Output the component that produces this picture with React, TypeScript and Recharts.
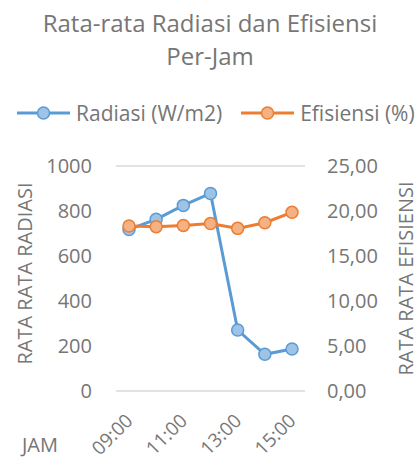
import { LineChart, Line, XAxis, YAxis, CartesianGrid, Label } from 'recharts'

const JAM = ['09:00', '10:00', '11:00', '12:00', '13:00', '14:00', '15:00']
const RADIASI = [718, 763, 825, 878, 271, 163, 187]
const EFISIENSI = [18.33, 18.26, 18.4, 18.6, 18.07, 18.7, 19.85]
const LEFT_TICKS = [0, 200, 400, 600, 800, 1000]
const RIGHT_TICKS = [0, 5, 10, 15, 20, 25]

const FONT = '"Open Sans", "Noto Sans", sans-serif'
const GREY = '#767676'
const BLUE = '#5B9BD5'
const ORANGE = '#ED7D31'

const data = JAM.map((jam, i) => ({ jam, radiasi: RADIASI[i], efisiensi: EFISIENSI[i] }))

const LegendItem = ({ color, fill, label }: { color: string; fill: string; label: string }) => (
  <div style={{ display: 'flex', alignItems: 'center' }}>
    <svg width={53} height={18}>
      <line x1={0} y1={9} x2={53} y2={9} stroke={color} strokeWidth={3} />
      <circle cx={26.5} cy={9} r={6} fill={fill} stroke={color} strokeWidth={1.5} />
    </svg>
    <span style={{ marginLeft: 6 }}>{label}</span>
  </div>
)

// rotated hour label, anchored at its end like Excel does
const JamTick = (props: any) => {
  const { x, y, payload } = props
  const ax = x + 5
  const ay = y + 31
  return (
    <text
      x={ax}
      y={ay}
      transform={`rotate(-45, ${ax}, ${ay})`}
      textAnchor="end"
      fontSize={19}
      fill={GREY}
      fontFamily={FONT}
    >
      {payload.value}
    </text>
  )
}

// vertical axis title at a fixed centre
const VTitle = ({ cx, cy, value }: { cx: number; cy: number; value: string }) => (
  <text
    x={cx}
    y={cy}
    transform={`rotate(-90, ${cx}, ${cy})`}
    textAnchor="middle"
    dominantBaseline="central"
    fontSize={20}
    fill={GREY}
    fontFamily={FONT}
  >
    {value}
  </text>
)

export default function App() {
  return (
    <div style={{ position: 'absolute', left: 0, top: 0, width: 420, height: 460, background: '#fff', fontFamily: FONT, color: GREY }}>
      <div style={{ position: 'absolute', top: 6, left: 0, width: 420, textAlign: 'center', fontSize: 24, lineHeight: '33px' }}>
        Rata-rata Radiasi dan Efisiensi
        <br />
        Per-Jam
      </div>
      <div style={{ position: 'absolute', top: 99, left: 17, display: 'flex', gap: 19, fontSize: 21 }}>
        <LegendItem color={BLUE} fill="#9DC3E6" label="Radiasi (W/m2)" />
        <LegendItem color={ORANGE} fill="#F4B183" label="Efisiensi (%)" />
      </div>
      <LineChart width={420} height={460} data={data} margin={{ top: 166, right: 0, bottom: 0, left: 0 }}>
        <CartesianGrid vertical={false} stroke="#D9D9D9" strokeWidth={1.5} />
        <XAxis
          dataKey="jam"
          interval={1}
          axisLine={false}
          tickLine={false}
          tickSize={0}
          tickMargin={0}
          height={69}
          padding={{ left: 13, right: 13 }}
          tick={<JamTick />}
          label={{ value: 'JAM', position: 'left', offset: 58, dy: 19, fontSize: 20, fill: GREY, fontFamily: FONT }}
        />
        <YAxis
          yAxisId="left"
          domain={[0, 1000]}
          ticks={LEFT_TICKS}
          width={116}
          axisLine={false}
          tickLine={false}
          tickSize={0}
          tickMargin={24}
          tick={{ fontSize: 20, fill: GREY, fontFamily: FONT }}
        >
          <Label content={() => <VTitle cx={24.5} cy={273.5} value="RATA RATA RADIASI" />} />
        </YAxis>
        <YAxis
          yAxisId="right"
          orientation="right"
          domain={[0, 25]}
          ticks={RIGHT_TICKS}
          width={115}
          axisLine={false}
          tickLine={false}
          tickSize={0}
          tickMargin={22}
          tickFormatter={(v: number) => v.toFixed(2).replace('.', ',')}
          tick={{ fontSize: 20, fill: GREY, fontFamily: FONT }}
        >
          <Label content={() => <VTitle cx={405.5} cy={278.5} value="RATA RATA EFISIENSI" />} />
        </YAxis>
        <Line
          yAxisId="left"
          dataKey="radiasi"
          stroke={BLUE}
          strokeWidth={3}
          dot={{ r: 6, fill: '#9DC3E6', stroke: BLUE, strokeWidth: 1.5 }}
          isAnimationActive={false}
        />
        <Line
          yAxisId="right"
          dataKey="efisiensi"
          stroke={ORANGE}
          strokeWidth={3}
          dot={{ r: 6, fill: '#F4B183', stroke: ORANGE, strokeWidth: 1.5 }}
          isAnimationActive={false}
        />
      </LineChart>
    </div>
  )
}
